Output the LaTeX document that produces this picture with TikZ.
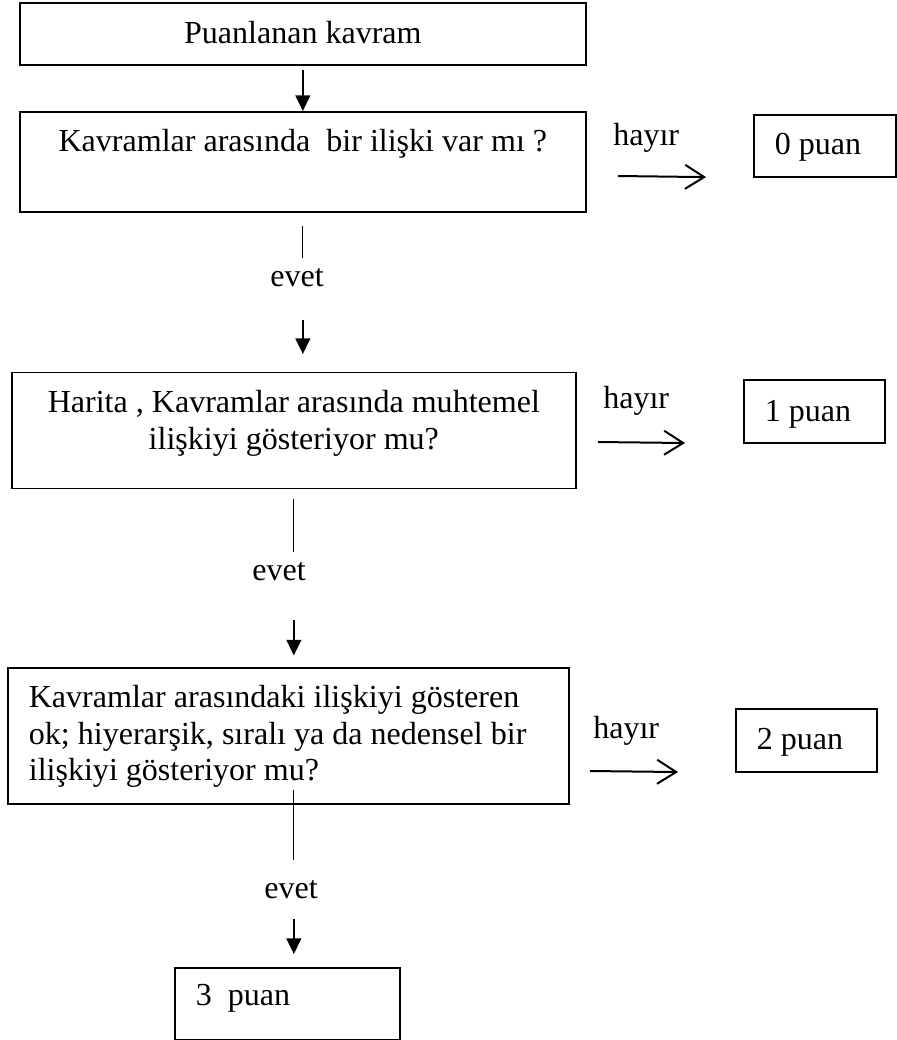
\documentclass[tikz,border=0pt]{standalone}
\usepackage{fontspec}
\setmainfont{Liberation Serif}
\frenchspacing
\usetikzlibrary{arrows.meta}
\tikzstyle{box}=[draw, line width=0.42mm, inner ysep=0pt, anchor=north west,
font=\fontsize{22.8}{26.1}\selectfont]
\tikzstyle{midbox}=[box, inner xsep=0pt, align=flush center]
\tikzstyle{leftbox}=[box, inner xsep=5.25mm, align=flush left]
\tikzstyle{answer}=[inner sep=0pt, anchor=base west, font=\fontsize{22.8}{26.1}\selectfont]
\tikzstyle{myarrow}=[-{Triangle[length=3.9mm, width=3.7mm]}, line width=0.42mm]
\tikzstyle{sidearrow}=[-{Straight Barb[length=4.75mm, width=6mm]}, line width=0.5mm]
\tikzstyle{stem}=[line width=0.28mm]

\begin{document}
\begin{tikzpicture}
    \useasboundingbox (0,0) rectangle (224.25mm, -260mm);

    \node[midbox, text width=141.5mm, text height=10.08mm, text depth=5.43mm] (A)
        at (4.75mm, -0.5mm) {Puanlanan kavram};
    \node[midbox, text width=141.5mm, text height=10mm, text depth=15mm] (B)
        at (4.75mm, -27.75mm) {Kavramlar arasında~ bir ilişki var mı ?};
    \node[leftbox, text width=25mm, text height=10mm, text depth=5.5mm] (P0)
        at (188.25mm, -28.5mm) {0 puan};
    \node[answer] (hayir0) at (153.25mm, -36.25mm) {hayır};
    \node[answer] (evet0) at (67.5mm, -71.5mm) {evet};

    \node[midbox, text width=141mm, text height=10mm, text depth=19mm] (C)
        at (2.75mm, -92.9mm) {Harita , Kavramlar arasında muhtemel\\ ilişkiyi gösteriyor mu?};
    \node[leftbox, text width=24.75mm, text height=10.5mm, text depth=5.25mm] (P1)
        at (185.75mm, -94.75mm) {1 puan};
    \node[answer] (hayir1) at (150.75mm, -102mm) {hayır};
    \node[answer] (evet1) at (63mm, -145mm) {evet};

    \node[leftbox, text width=129.75mm, text height=9.93mm, text depth=24.08mm] (D)
        at (1.75mm, -166.75mm) {Kavramlar arasındaki ilişkiyi gösteren\\
        ok; hiyerarşik, sıralı ya da nedensel bir\\ ilişkiyi gösteriyor mu?};
    \node[leftbox, text width=24.75mm, text height=10.25mm, text depth=5.5mm] (P2)
        at (183.75mm, -177mm) {2 puan};
    \node[answer] (hayir2) at (148.25mm, -184.5mm) {hayır};
    \node[answer] (evet2) at (66mm, -224.5mm) {evet};

    \node[leftbox, text width=45.75mm, text height=9.5mm, text depth=8.5mm] (P3)
        at (43.5mm, -241.75mm) {3~ puan};

    \coordinate (n0) at (154.5mm, -44mm);
    \coordinate (n1) at (149.5mm, -110.5mm);
    \coordinate (n2) at (147.5mm, -192.75mm);

    \draw[myarrow] ([yshift=-1mm]A.south) -- (B.north);
    \draw[sidearrow, shorten >=11.75mm] (n0) -- (P0.south west);
    \draw[stem, shorten <=3.25mm, shorten >=2.4mm] (B.south) -- (B.south |- evet0.north);
    \draw[myarrow, shorten <=8.25mm, shorten >=4.4mm] (B.south |- evet0.south) -- (B.south |- C.north);

    \draw[sidearrow, shorten >=14.5mm] (n1) -- (P1.south west);
    \draw[stem, shorten <=2.5mm, shorten >=2.4mm] (C.south) -- (C.south |- evet1.north);
    \draw[myarrow, shorten <=9.75mm, shorten >=2.9mm] (C.south |- evet1.south) -- (C.south |- D.north);

    \draw[sidearrow, shorten >=14.25mm] (n2) -- (P2.south west);
    \draw[stem, shorten <=-3.75mm, shorten >=4.9mm] (C.south |- D.south) -- (C.south |- evet2.north);
    \draw[myarrow, shorten <=5mm, shorten >=3.25mm] (C.south |- evet2.south) -- (C.south |- P3.north);
\end{tikzpicture}
\end{document}
